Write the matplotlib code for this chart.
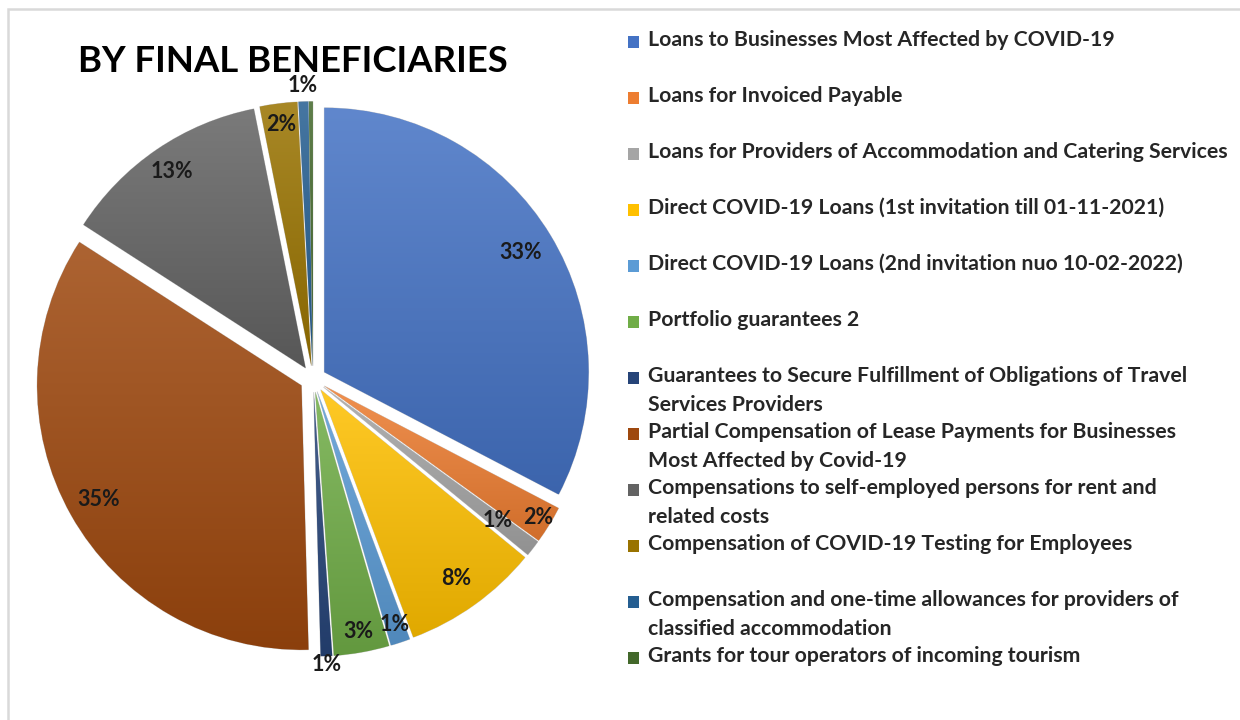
import matplotlib
matplotlib.use("Agg")
import matplotlib.pyplot as plt
import numpy as np
from matplotlib.colors import LinearSegmentedColormap, to_rgb
from matplotlib.patches import Rectangle

plt.rcParams["font.family"] = ["Lato", "DejaVu Sans"]

# ── Data ─────────────────────────────────────────────────────────────────────
TITLE = "BY FINAL BENEFICIARIES"

CATEGORIES = [
    "Loans to Businesses Most Affected by COVID-19",
    "Loans for Invoiced Payable",
    "Loans for Providers of Accommodation and Catering Services",
    "Direct COVID-19 Loans (1st invitation till 01-11-2021)",
    "Direct COVID-19 Loans (2nd invitation nuo 10-02-2022)",
    "Portfolio guarantees 2",
    "Guarantees to Secure Fulfillment of Obligations of Travel\nServices Providers",
    "Partial Compensation of Lease Payments for Businesses\nMost Affected by Covid-19",
    "Compensations to self-employed persons for rent and\nrelated costs",
    "Compensation of COVID-19 Testing for Employees",
    "Compensation and one-time allowances for providers of\nclassified accommodation",
    "Grants for tour operators of incoming tourism",
]
SHARES = [32.8, 2.3, 1.0, 8.4, 1.2, 3.4, 0.7, 34.7, 12.8, 2.3, 0.6, 0.25]

COLORS = ["#4472C4", "#ED7D31", "#A5A5A5", "#FFC000", "#5B9BD5", "#70AD47",
          "#264478", "#9E480E", "#636363", "#997300", "#255E91", "#43682B"]

# label distance (fraction of radius) per slice, None = no label
LABEL_R = [0.87, 0.95, 0.83, 0.88, 0.93, 0.92, 1.03, 0.88, 0.9, 0.92, 1.06, None]


def shade(c, f):
    r = np.array(to_rgb(c))
    if f > 0:
        return tuple(r + (1 - r) * f)
    return tuple(r * (1 + f))


# ── Figure ───────────────────────────────────────────────────────────────────
W, H = 1240, 720
fig = plt.figure(figsize=(W / 100, H / 100), dpi=100)

# chart-area border (top and left visible)
fig.add_artist(Rectangle((8 / W, -0.05), 1.2, (H - 9) / H + 0.05,
                         transform=fig.transFigure, fill=False,
                         edgecolor="#d9d9d9", linewidth=1.8))

CX, CY = 313, 379
ax = fig.add_axes([(CX - 300) / W, (H - CY - 300) / H, 600 / W, 600 / H])
ax.set_aspect("equal")
ax.axis("off")

wedges, _ = ax.pie(SHARES, colors=COLORS, startangle=90, counterclock=False,
                   explode=[0.05] * len(SHARES),
                   wedgeprops=dict(linewidth=0.6, edgecolor="#d0d0d0"))

# gradient fill (lighter top, darker bottom) clipped to each wedge
grad = np.linspace(0, 1, 256).reshape(-1, 1)
for w, c in zip(wedges, COLORS):
    cx, cy = w.center
    t = np.radians(np.linspace(w.theta1, w.theta2, 60))
    xs = np.r_[cx, cx + w.r * np.cos(t)]
    ys = np.r_[cy, cy + w.r * np.sin(t)]
    cmap = LinearSegmentedColormap.from_list("g", [shade(c, -0.12), shade(c, 0.15)])
    im = ax.imshow(grad, cmap=cmap, origin="lower", aspect="auto",
                   extent=[xs.min(), xs.max(), ys.min(), ys.max()], zorder=1.5)
    im.set_clip_path(w)
ax.set_xlim(-1.135, 1.135)
ax.set_ylim(-1.135, 1.135)

total = sum(SHARES)
for w, v, lr in zip(wedges, SHARES, LABEL_R):
    if lr is None:
        continue
    ang = np.radians((w.theta1 + w.theta2) / 2)
    cx, cy = w.center
    ax.text(cx + lr * np.cos(ang), cy + lr * np.sin(ang), f"{v / total * 100:.0f}%",
            ha="center", va="center", fontsize=15.5, fontweight="bold",
            color="#1a1a1a", zorder=3)

fig.text(78 / W, 1 - 61 / H, TITLE, ha="left", va="center", fontsize=26.3,
         fontweight="bold", color="black")

# legend drawn by hand: one slot of 56 px per item
y0 = 42
for i, (lab, c) in enumerate(zip(CATEGORIES, COLORS)):
    y = y0 + 56 * i
    fig.add_artist(Rectangle((628 / W, 1 - (y + 6) / H), 11 / W, 12 / H,
                             transform=fig.transFigure, facecolor=c,
                             edgecolor="none"))
    fig.text(648 / W, 1 - (y - 12) / H, lab, ha="left", va="top",
             fontsize=15.3, fontweight="bold", color="#262626", linespacing=1.55)

fig.savefig("out.png", dpi=100, facecolor="white")
